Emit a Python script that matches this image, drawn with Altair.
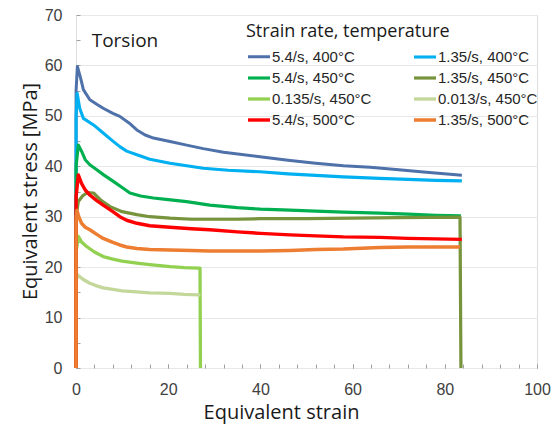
import altair as alt
import pandas as pd

series_names = ["5.4/s, 400°C", "1.35/s, 400°C", "5.4/s, 450°C", "1.35/s, 450°C",
                "0.135/s, 450°C", "0.013/s, 450°C", "5.4/s, 500°C", "1.35/s, 500°C"]

x_54_400 = [0, 0.02, 0.3, 1.0, 1.6, 3.0, 4.5, 5.9, 8.0, 9.5, 11.5, 13.2, 15.0, 16.8, 20.4, 24, 27.6, 32, 39.9, 46, 52, 58, 63.8, 70, 76, 83.7]
y_54_400 = [0, 55.0, 59.8, 57.5, 55.2, 53.2, 52.3, 51.5, 50.5, 49.9, 48.6, 47.2, 46.2, 45.6, 44.9, 44.2, 43.5, 42.8, 41.9, 41.2, 40.6, 40.1, 39.8, 39.3, 38.8, 38.2]

x_135_400 = [0, 0.02, 0.25, 0.8, 1.6, 3.8, 5.9, 8, 9.5, 11, 13.2, 16, 20.4, 24, 27.6, 33, 39.9, 46, 52, 58, 65.9, 72, 78, 83.7]
y_135_400 = [0, 50.0, 54.5, 51.5, 49.5, 48.2, 46.6, 45.0, 43.9, 43.0, 42.3, 41.4, 40.6, 40.1, 39.6, 39.2, 38.9, 38.5, 38.2, 37.9, 37.6, 37.4, 37.2, 37.1]

x_54_450 = [0, 0.02, 0.5, 1.2, 2, 3, 4.5, 6, 8.1, 10, 11.7, 14, 16.8, 20, 24, 29, 35, 40, 46.4, 52, 58, 65.9, 72, 78, 83.5]
y_54_450 = [0, 40.0, 44.2, 43.0, 41.3, 40.3, 39.3, 38.3, 37.0, 35.8, 34.7, 34.1, 33.7, 33.4, 33.0, 32.3, 31.8, 31.5, 31.3, 31.1, 30.9, 30.7, 30.5, 30.3, 30.2]

x_135_450 = [0, 0.02, 0.5, 1.5, 2.5, 3.8, 5.5, 7.4, 10, 13.2, 16, 20.4, 25, 29, 35, 40, 50, 60, 70, 83.3, 83.5]
y_135_450 = [0, 30.0, 33.0, 34.2, 34.8, 34.7, 33.2, 32.0, 31.0, 30.4, 30.0, 29.7, 29.5, 29.5, 29.5, 29.6, 29.6, 29.7, 29.8, 29.9, 0]

x_0135_450 = [0, 0.02, 0.5, 1.2, 2.3, 4, 5.9, 8, 10, 13.2, 16, 20.4, 23.5, 26.5, 26.9, 27.0]
y_0135_450 = [0, 23.0, 26.1, 25.0, 24.1, 23.0, 22.1, 21.6, 21.2, 20.8, 20.5, 20.1, 19.9, 19.8, 19.8, 0]

x_0013_450 = [0, 0.02, 0.3, 1.5, 3, 4.5, 5.9, 8, 10, 13.2, 16, 20.4, 23.5, 26.5, 27]
y_0013_450 = [0, 17.0, 18.5, 17.6, 16.8, 16.3, 15.9, 15.6, 15.3, 15.1, 14.9, 14.8, 14.6, 14.5, 14.5]

x_54_500 = [0, 0.02, 0.5, 1.2, 2, 3, 4.5, 5.9, 8, 9.5, 11, 13.2, 16, 20.4, 25, 29, 35, 40, 46.4, 52, 58, 65.9, 72, 78, 83.7]
y_54_500 = [0, 34.0, 38.3, 36.6, 35.3, 34.3, 33.2, 32.3, 31.0, 30.0, 29.3, 28.7, 28.2, 27.9, 27.6, 27.4, 27.0, 26.7, 26.4, 26.2, 26.0, 25.9, 25.7, 25.6, 25.5]

x_135_500 = [0, 0.02, 0.2, 0.6, 1.2, 2, 3, 4.5, 5.9, 8, 9.5, 11, 13.2, 16, 20.4, 25, 29, 35, 40, 46.4, 52, 58, 65.9, 72, 78, 83.3]
y_135_500 = [0, 29.0, 31.3, 30.0, 28.7, 27.9, 27.4, 26.5, 25.7, 24.9, 24.4, 24.0, 23.7, 23.5, 23.4, 23.3, 23.2, 23.2, 23.2, 23.3, 23.5, 23.6, 23.9, 24.0, 24.0, 24.0]

x_major = list(range(0, 101, 20))
x_minor = list(range(0, 101, 4))
y_ticks = list(range(0, 71, 5))

colors = ["#4E71AA", "#00B0F0", "#00B050", "#77933C", "#92D050", "#C4D79B", "#FF0000", "#ED7D31"]
widths = [3, 3.5, 3, 3.5, 8, 5, 3.5, 3.5]

xs = [x_54_400, x_135_400, x_54_450, x_135_450, x_0135_450, x_0013_450, x_54_500, x_135_500]
ys = [y_54_400, y_135_400, y_54_450, y_135_450, y_0135_450, y_0013_450, y_54_500, y_135_500]

rows = []
for k, (name, xv, yv) in enumerate(zip(series_names, xs, ys)):
    for i, (a, b) in enumerate(zip(xv, yv)):
        rows.append({"series": name, "i": i, "strain": a, "stress": b})
df = pd.DataFrame(rows)

label_df = pd.DataFrame({"strain": [3.4], "stress": [63.6], "text": ["Torsion"]})

xscale = alt.Scale(domain=[0, 100], nice=False, zero=False)
yscale = alt.Scale(domain=[0, 70], nice=False)
cscale = alt.Scale(domain=series_names, range=colors)
wscale = alt.Scale(domain=series_names, range=widths)

xaxis = alt.Axis(values=x_major, offset=-4, domain=False, tickSize=4, tickColor="#a0a0a0", grid=False,
                 labelFlush=False, labelOverlap=False, labelPadding=13,
                 labelFont="Liberation Sans", labelFontSize=16, labelColor="#404040",
                 title="Equivalent strain", titleFont="Open Sans", titleFontSize=20,
                 titleFontWeight="normal", titleColor="#1a1a1a",
                 titleX=205, titleY=54, titleAlign="center", titleBaseline="alphabetic")

xaxis_minor = alt.Axis(values=x_minor, orient="bottom", offset=-4, domain=False, tickSize=4,
                       tickColor="#a0a0a0", grid=False, labels=False, title=None)

yaxis = alt.Axis(values=y_ticks, labelExpr="datum.value % 10 === 0 ? datum.label : ''",
                 offset=-4, domain=False, tickSize=4, tickColor="#a0a0a0",
                 grid=True, gridColor="#e8e8e8",
                 gridOpacity={"condition": {"test": "datum.value % 10 === 0", "value": 1}, "value": 0},
                 labelOverlap=False, labelPadding=14,
                 labelFont="Liberation Sans", labelFontSize=16, labelColor="#404040",
                 title="Equivalent stress [MPa]", titleFont="Open Sans", titleFontSize=20,
                 titleFontWeight="normal", titleColor="#1a1a1a",
                 titleX=-44, titleY=176, titleAngle=-90, titleAlign="center", titleBaseline="alphabetic")

legend = alt.Legend(orient="none", legendX=168, legendY=6, columns=2, direction="horizontal",
                    title="Strain rate, temperature", titleFont="Open Sans", titleFontSize=18,
                    titleFontWeight="normal", titleColor="#1a1a1a", titlePadding=3, titleLimit=400,
                    labelFont="Liberation Sans", labelFontSize=15, labelColor="#262626", labelLimit=300,
                    symbolType="stroke", symbolSize=484, symbolStrokeWidth=2.5,
                    columnPadding=35, rowPadding=-4, labelOffset=0, padding=2, symbolLimit=0)

layers = []
for name in series_names:
    layers.append(
        alt.Chart(df[df["series"] == name]).mark_line(strokeCap="butt", strokeJoin="round").encode(
            x=alt.X("strain:Q", scale=xscale, axis=xaxis),
            y=alt.Y("stress:Q", scale=yscale, axis=yaxis),
            color=alt.Color("series:N", scale=cscale, sort=series_names, legend=legend),
            strokeWidth=alt.StrokeWidth("series:N", scale=wscale, legend=None),
            order=alt.Order("i:Q"),
        )
    )
lines = alt.layer(*layers)

label = alt.Chart(label_df).mark_text(align="left", baseline="alphabetic", font="Open Sans",
                                      fontSize=19, color="#1a1a1a").encode(
    x=alt.X("strain:Q", scale=xscale, axis=xaxis_minor),
    y=alt.Y("stress:Q", scale=yscale, axis=yaxis),
    text="text:N")

chart = alt.layer(lines, label).resolve_axis(x="independent").properties(
    width=461, height=353,
    autosize=alt.AutoSizeParams(type="none"),
    padding={"left": 76, "top": 15, "right": 23, "bottom": 62},
).configure_view(stroke="#a6a6a6", strokeWidth=1).configure(background="white")

chart.save("out.html", embed_options={"renderer": "svg", "actions": False})
